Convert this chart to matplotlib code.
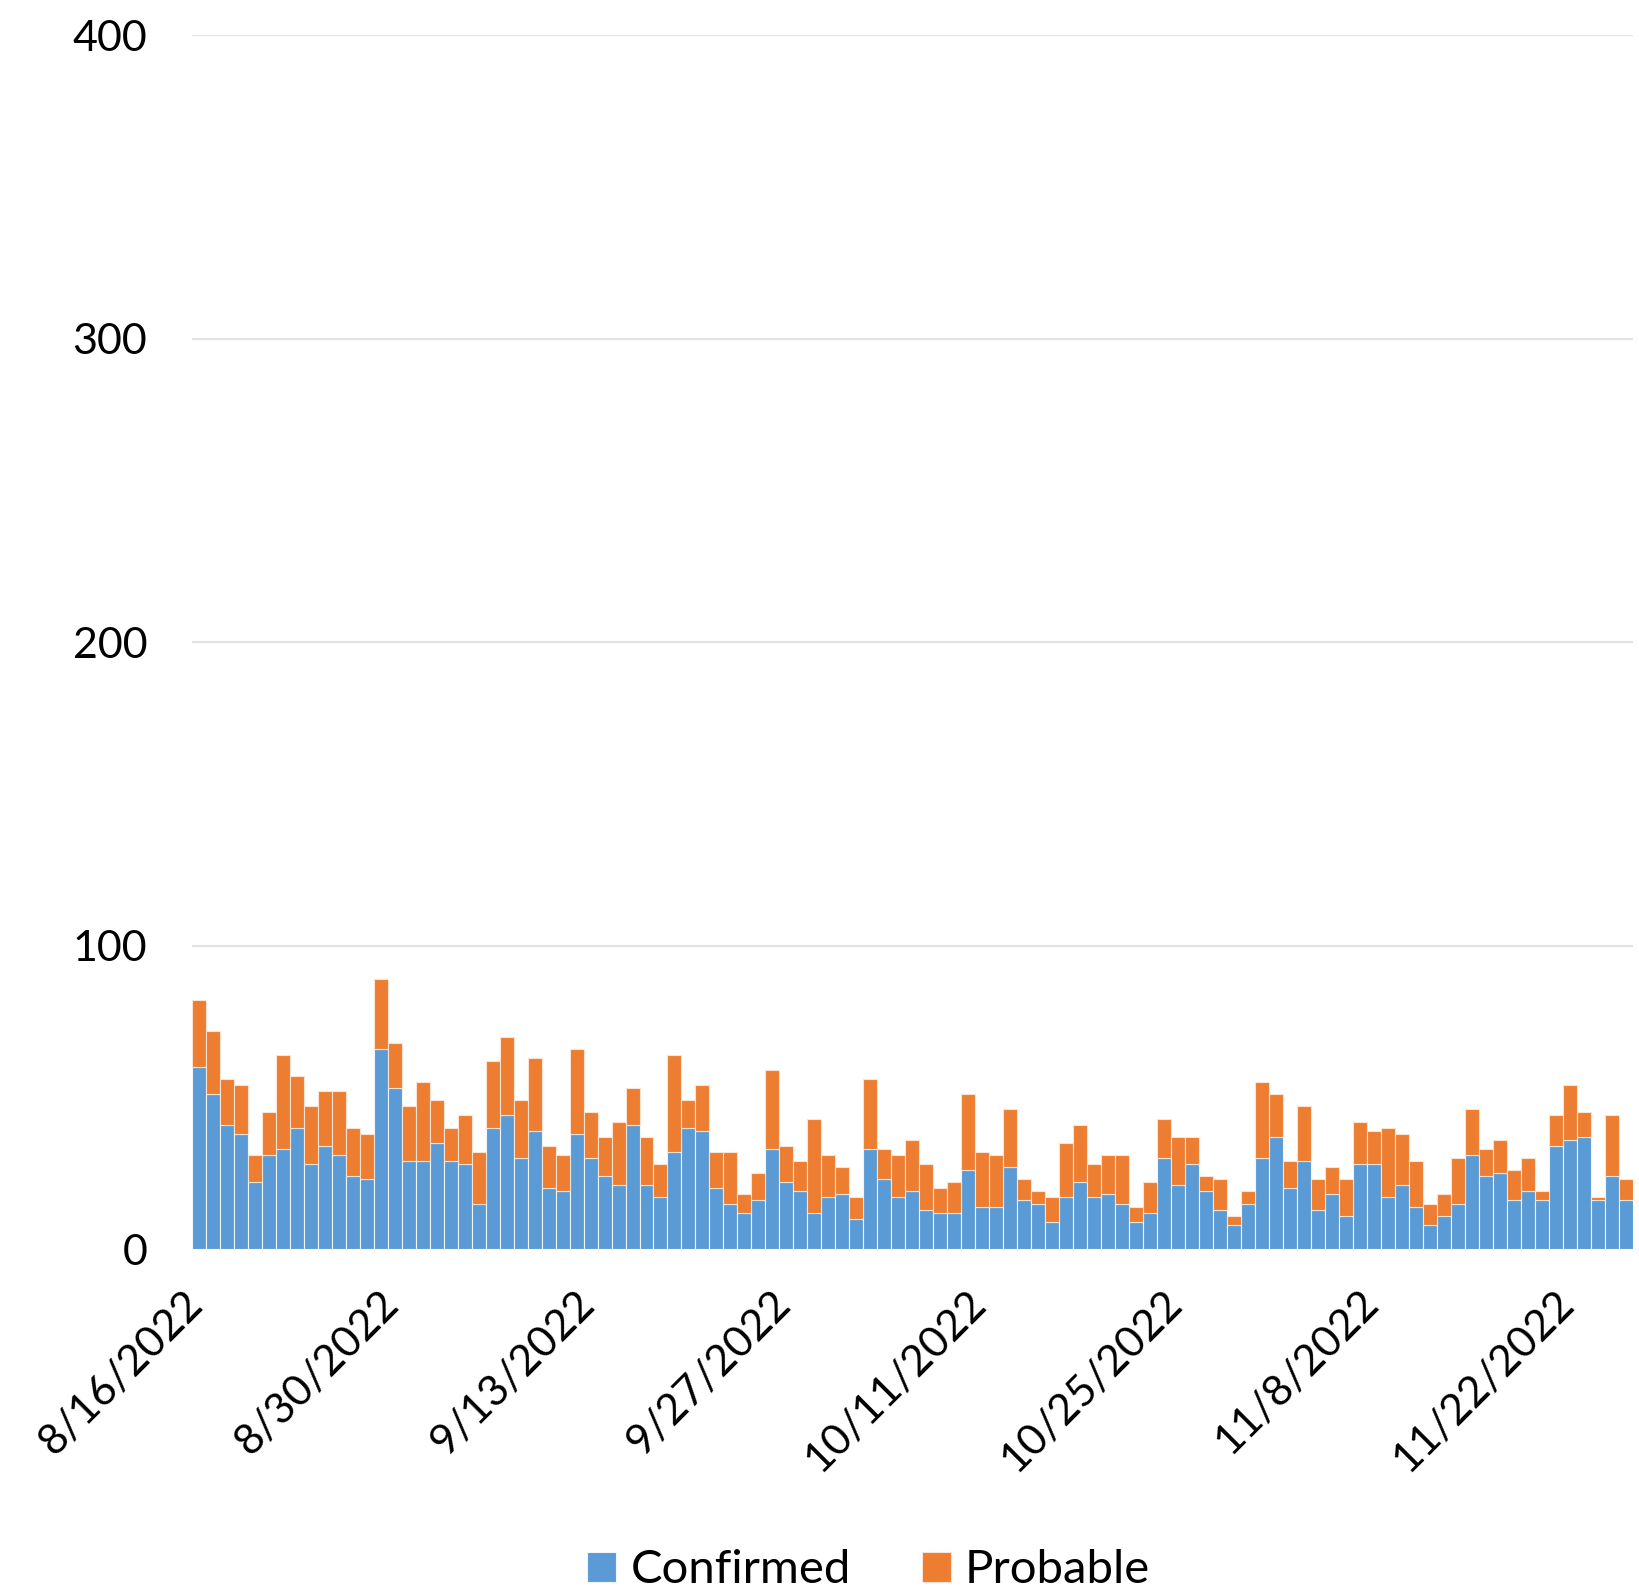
import pandas as pd
import matplotlib.pyplot as plt
import matplotlib.transforms as mtransforms

dates = pd.date_range("2022-08-16", "2022-11-26", freq="D")

confirmed = [60, 51, 41, 38, 22, 31, 33, 40, 28, 34, 31, 24, 23, 66, 53, 29, 29, 35, 29, 28,
             15, 40, 44, 30, 39, 20, 19, 38, 30, 24, 21, 41, 21, 17, 32, 40, 39, 20, 15, 12,
             16, 33, 22, 19, 12, 17, 18, 10, 33, 23, 17, 19, 13, 12, 12, 26, 14, 14, 27, 16,
             15, 9, 17, 22, 17, 18, 15, 9, 12, 30, 21, 28, 19, 13, 8, 15, 30, 37, 20, 29,
             13, 18, 11, 28, 28, 17, 21, 14, 8, 11, 15, 31, 24, 25, 16, 19, 16, 34, 36, 37,
             16, 24, 16]
total = [82, 72, 56, 54, 31, 45, 64, 57, 47, 52, 52, 40, 38, 89, 68, 47, 55, 49, 40, 44,
         32, 62, 70, 49, 63, 34, 31, 66, 45, 37, 42, 53, 37, 28, 64, 49, 54, 32, 32, 18,
         25, 59, 34, 29, 43, 31, 27, 17, 56, 33, 31, 36, 28, 20, 22, 51, 32, 31, 46, 23,
         19, 17, 35, 41, 28, 31, 31, 14, 22, 43, 37, 37, 24, 23, 11, 19, 55, 51, 29, 47,
         23, 27, 23, 42, 39, 40, 38, 29, 15, 18, 30, 46, 33, 36, 26, 30, 19, 44, 54, 45,
         17, 44, 23]
probable = [t - c for t, c in zip(total, confirmed)]

yticks = [0, 100, 200, 300, 400]
tick_step = 14

plt.rcParams['font.family'] = ['Lato', 'DejaVu Sans']

fig = plt.figure(figsize=(16.39, 15.96), dpi=100)
ax = fig.add_axes([0.117, 0.2174, 0.8793, 0.7606])

x = list(range(len(dates)))
ax.bar(x, confirmed, width=1.0, color="#5B9BD5", edgecolor="#F0F5FB", linewidth=0.8,
       label="Confirmed", zorder=3)
ax.bar(x, probable, bottom=confirmed, width=1.0, color="#ED7D31", edgecolor="#FBE3D3",
       linewidth=0.8, label="Probable", zorder=3)

ax.set_ylim(0, 400)
ax.set_xlim(-0.5, len(dates) - 0.5)
ax.set_yticks(yticks)
ax.set_yticklabels([str(v) for v in yticks], fontsize=31)
ax.grid(axis="y", color="#E3E3E3", linewidth=1.5, zorder=0)

tick_pos = x[::tick_step]
ax.set_xticks(tick_pos)
ax.set_xticklabels([f"{d.month}/{d.day}/{d.year}" for d in dates[::tick_step]],
                   rotation=45, ha="right", rotation_mode="anchor", fontsize=31)

ax.tick_params(axis="both", length=0)
ax.tick_params(axis="y", pad=32)
ax.tick_params(axis="x", pad=26)
for s in ax.spines.values():
    s.set_visible(False)

# nudge the rotated date labels left so their ends sit under the bars
shift = mtransforms.ScaledTranslation(-16 / 100, 2 / 100, fig.dpi_scale_trans)
for lbl in ax.get_xticklabels():
    lbl.set_transform(lbl.get_transform() + shift)

fig.legend(loc="center", bbox_to_anchor=(0.53, 0.016), ncol=2, frameon=False,
           fontsize=34, handlelength=0.62, handleheight=0.62, handletextpad=0.3,
           columnspacing=1.5)

fig.savefig("out.png", dpi=100)
